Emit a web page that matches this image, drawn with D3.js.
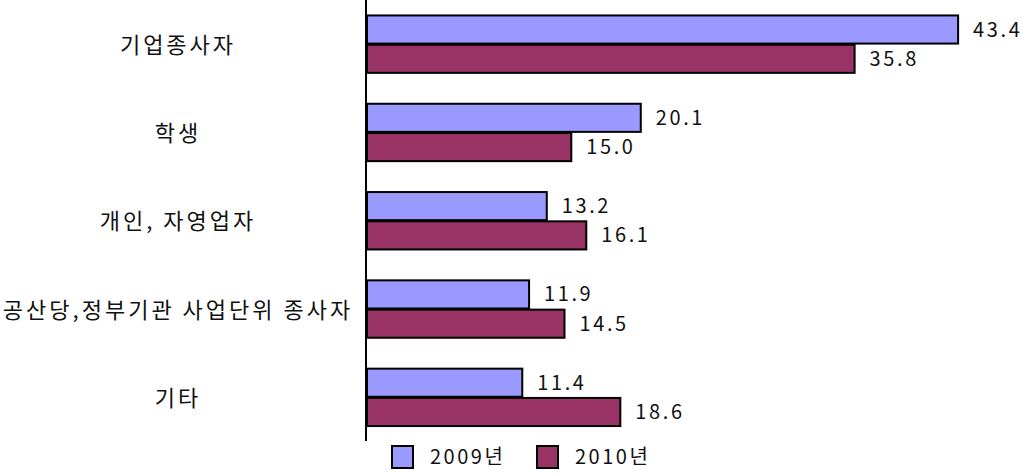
<!DOCTYPE html>
<html>
<head>
<meta charset="utf-8">
<script src="https://cdn.jsdelivr.net/npm/d3@7"></script>
<style>
  body { margin: 0; background: #fff; }
  text { font-family: "Noto Sans CJK KR", "Noto Sans", sans-serif; fill: #111; }
</style>
</head>
<body>
<svg id="chart" width="1023" height="474"></svg>
<script>
const categories = ["기업종사자", "학생", "개인, 자영업자", "공산당,정부기관 사업단위 종사자", "기타"];
const seriesNames = ["2009년", "2010년"];
const values2009 = [43.4, 20.1, 13.2, 11.9, 11.4];
const values2010 = [35.8, 15.0, 16.1, 14.5, 18.6];
const seriesColors = ["#9999ff", "#993366"];

const data = categories.map((c, i) => ({
    category: c,
    values: [
        { series: seriesNames[0], value: values2009[i] },
        { series: seriesNames[1], value: values2010[i] }
    ]
}));

const svg = d3.select("#chart");
const axisX = 366;

const xScale = d3.scaleLinear()
    .domain([0, 50])
    .range([axisX + 1, axisX + 1 + 50 * 13.62]);

const yScale = d3.scaleBand()
    .domain(categories)
    .range([0, 441.5])
    .paddingInner(0.35)
    .paddingOuter(0.175);

const ySub = d3.scaleBand()
    .domain(seriesNames)
    .range([0, yScale.bandwidth()])
    .paddingInner(0.04);

const color = d3.scaleOrdinal().domain(seriesNames).range(seriesColors);

// category labels
svg.selectAll(".cat-label")
    .data(categories)
    .enter().append("text")
    .attr("class", "cat-label")
    .attr("x", 178)
    .attr("y", d => yScale(d) + yScale.bandwidth() / 2 + 1)
    .attr("dy", "0.35em")
    .attr("text-anchor", "middle")
    .attr("font-size", 22)
    .attr("letter-spacing", 3)
    .text(d => d);

const groups = svg.selectAll(".group")
    .data(data)
    .enter().append("g")
    .attr("class", "group")
    .attr("transform", d => `translate(0, ${yScale(d.category)})`);

groups.selectAll("rect")
    .data(d => d.values)
    .enter().append("rect")
    .attr("x", xScale(0))
    .attr("y", d => ySub(d.series))
    .attr("width", d => xScale(d.value) - xScale(0))
    .attr("height", ySub.bandwidth())
    .attr("fill", d => color(d.series))
    .attr("stroke", "#000")
    .attr("stroke-width", 2);

groups.selectAll(".value-label")
    .data(d => d.values)
    .enter().append("text")
    .attr("class", "value-label")
    .attr("x", d => xScale(d.value) + 15)
    .attr("y", d => ySub(d.series) + ySub.bandwidth() / 2)
    .attr("dy", "0.35em")
    .attr("font-size", 20)
    .attr("letter-spacing", 2.6)
    .text(d => d3.format(".1f")(d.value));

// vertical axis line
svg.append("line")
    .attr("x1", axisX).attr("x2", axisX)
    .attr("y1", 0).attr("y2", 441)
    .attr("stroke", "#000")
    .attr("stroke-width", 2);

// legend
const legend = svg.append("g").attr("transform", "translate(392, 446)");
const legendItems = legend.selectAll(".legend-item")
    .data(seriesNames)
    .enter().append("g")
    .attr("class", "legend-item")
    .attr("transform", (d, i) => `translate(${i * 145}, 0)`);
legendItems.append("rect")
    .attr("width", 21).attr("height", 22)
    .attr("fill", d => color(d))
    .attr("stroke", "#000")
    .attr("stroke-width", 2);
legendItems.append("text")
    .attr("x", 38)
    .attr("y", 11)
    .attr("dy", "0.35em")
    .attr("font-size", 20)
    .attr("letter-spacing", 2.5)
    .text(d => d);
</script>
</body>
</html>
